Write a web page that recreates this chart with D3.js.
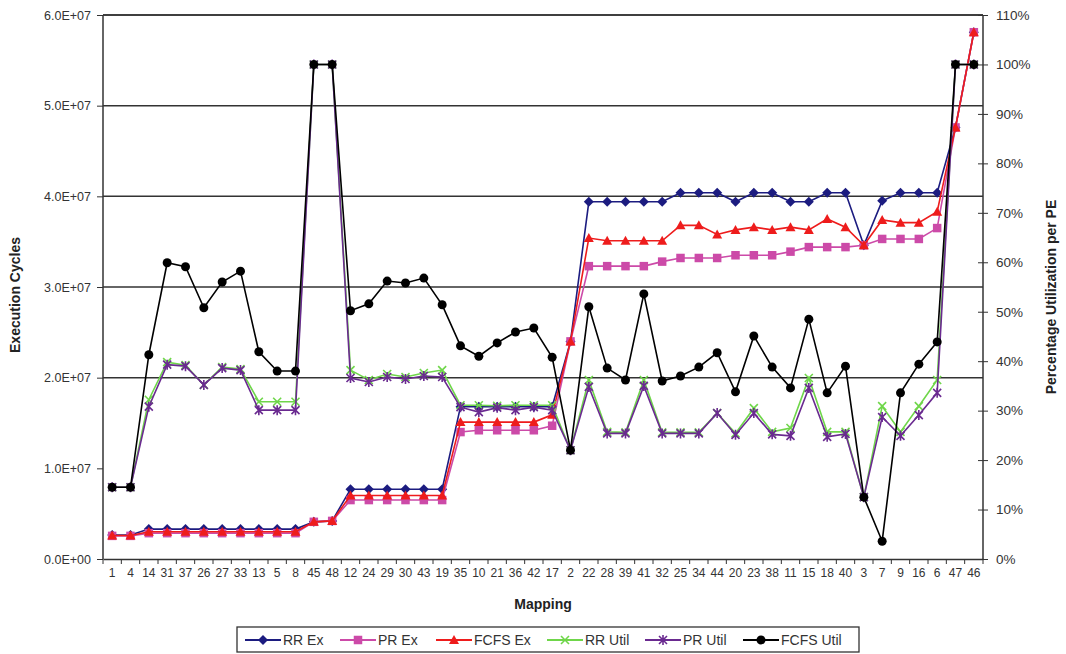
<!DOCTYPE html>
<html lang="en">
<head>
<meta charset="UTF-8">
<title>Execution Cycles and Utilization per Mapping</title>
<script src="https://cdn.jsdelivr.net/npm/d3@7/dist/d3.min.js"></script>
<style>
    body { margin: 0; background: #fff; }
    text { font-family: "Liberation Sans", Arial, sans-serif; fill: #333; }
    .title { font-weight: bold; font-size: 14px; fill: #222; }
</style>
</head>
<body>
<div id="main"></div>
<script>
    // mapping order along the x axis
    const mappings = ['1','4','14','31','37','26','27','33','13','5','8','45','48','12','24','29','30','43','19',
        '35','10','21','36','42','17','2','22','28','39','41','32','25','34','44','20','23','38','11','15','18','40',
        '3','7','9','16','6','47','46'];

    // execution cycles (left axis)
    const rrEx = [2.65e6,2.65e6,3.3e6,3.3e6,3.3e6,3.3e6,3.3e6,3.3e6,3.3e6,3.3e6,3.3e6,4.1e6,4.2e6,
        7.7e6,7.7e6,7.7e6,7.7e6,7.7e6,7.7e6,16.8e6,16.8e6,16.8e6,16.8e6,16.8e6,16.8e6,24.0e6,
        39.4e6,39.4e6,39.4e6,39.4e6,39.4e6,40.4e6,40.4e6,40.4e6,39.4e6,40.4e6,40.4e6,39.4e6,39.4e6,40.4e6,40.4e6,
        34.6e6,39.5e6,40.4e6,40.4e6,40.4e6,47.6e6,58.1e6];
    const prEx = [2.55e6,2.55e6,2.85e6,2.85e6,2.85e6,2.85e6,2.85e6,2.85e6,2.85e6,2.85e6,2.85e6,4.1e6,4.2e6,
        6.5e6,6.5e6,6.5e6,6.5e6,6.5e6,6.5e6,14.0e6,14.2e6,14.2e6,14.2e6,14.2e6,14.7e6,24.0e6,
        32.3e6,32.3e6,32.3e6,32.3e6,32.8e6,33.2e6,33.2e6,33.2e6,33.5e6,33.5e6,33.5e6,33.9e6,34.4e6,34.4e6,34.4e6,
        34.6e6,35.3e6,35.3e6,35.3e6,36.5e6,47.6e6,58.1e6];
    const fcfsEx = [2.6e6,2.6e6,3.0e6,3.0e6,3.0e6,3.0e6,3.0e6,3.0e6,3.0e6,3.0e6,3.0e6,4.1e6,4.2e6,
        7.0e6,7.0e6,7.0e6,7.0e6,7.0e6,7.0e6,15.1e6,15.1e6,15.1e6,15.1e6,15.1e6,15.9e6,24.0e6,
        35.4e6,35.1e6,35.1e6,35.1e6,35.1e6,36.8e6,36.8e6,35.8e6,36.3e6,36.6e6,36.3e6,36.6e6,36.3e6,37.5e6,36.6e6,
        34.6e6,37.4e6,37.1e6,37.1e6,38.3e6,47.6e6,58.1e6];

    // utilization per PE in percent (right axis)
    const rrUtil = [14.5,14.5,32.2,39.8,39.2,35.2,38.8,38.4,31.8,31.8,31.8,100,100,
        38.2,36.2,37.4,36.8,37.6,38.2,31.1,31.1,31.0,31.1,31.1,31.1,22,
        36.2,25.7,25.6,36.2,25.6,25.6,25.6,29.5,25.4,30.5,25.7,26.5,36.6,25.7,25.7,
        12.5,30.9,25.7,30.9,36.2,100,100];
    const prUtil = [14.5,14.5,30.8,39.3,39.0,35.2,38.6,38.2,30.1,30.1,30.1,100,100,
        36.6,35.8,36.8,36.4,37.0,36.8,30.7,29.7,30.6,30.1,30.7,30.1,22,
        34.8,25.4,25.4,35.0,25.4,25.4,25.4,29.5,25.1,29.5,25.2,24.9,34.6,24.7,25.3,
        12.5,28.7,24.9,29.1,33.6,100,100];
    const fcfsUtil = [14.5,14.5,41.3,59.9,59.1,50.8,56.0,58.2,41.9,38.0,38.0,100,100,
        50.2,51.6,56.2,55.8,56.8,51.4,43.1,41.0,43.7,45.9,46.7,40.8,22,
        51.0,38.6,36.2,53.6,36.0,37.0,38.8,41.7,33.8,45.1,38.8,34.6,48.5,33.6,39.0,
        12.5,3.6,33.6,39.4,43.9,100,100];

    const leftTicks = [0, 1e7, 2e7, 3e7, 4e7, 5e7, 6e7];
    const rightTicks = d3.range(0, 111, 10);

    const series = [
        {name: 'RR Ex', values: rrEx, axis: 'left', color: '#1c1c80', symbol: 'diamond'},
        {name: 'PR Ex', values: prEx, axis: 'left', color: '#cc4aa8', symbol: 'square'},
        {name: 'FCFS Ex', values: fcfsEx, axis: 'left', color: '#ee1c1c', symbol: 'triangle'},
        {name: 'RR Util', values: rrUtil, axis: 'right', color: '#6fd64a', symbol: 'x'},
        {name: 'PR Util', values: prUtil, axis: 'right', color: '#6a2a90', symbol: 'star'},
        {name: 'FCFS Util', values: fcfsUtil, axis: 'right', color: '#000000', symbol: 'circle'}
    ];

    const W = 1066, H = 654;
    const m = {left: 103, right: 83, top: 15, bottom: 95};

    const svg = d3.select('#main').append('svg')
        .attr('width', W).attr('height', H);

    const x = d3.scaleBand().domain(mappings).range([m.left, W - m.right]);
    const yL = d3.scaleLinear().domain([0, 6e7]).range([H - m.bottom, m.top]);
    const yR = d3.scaleLinear().domain([0, 110]).range([H - m.bottom, m.top]);
    const cx = d => x(d) + x.bandwidth() / 2;

    // grid lines (only major lines from 2E+07 upward, like the reference)
    svg.append('g').selectAll('line')
        .data(leftTicks.filter(t => t >= 2e7))
        .enter().append('line')
        .attr('x1', m.left).attr('x2', W - m.right)
        .attr('y1', d => yL(d)).attr('y2', d => yL(d))
        .attr('stroke', '#333').attr('stroke-width', 1.5);

    // left axis
    const axL = svg.append('g').attr('transform', `translate(${m.left},0)`)
        .call(d3.axisLeft(yL).tickValues(leftTicks).tickSize(6).tickPadding(6)
            .tickFormat(d => (d / 1e7).toFixed(1) + 'E+' + (d === 0 ? '00' : '07')));
    // right axis
    const axR = svg.append('g').attr('transform', `translate(${W - m.right},0)`)
        .call(d3.axisRight(yR).tickValues(rightTicks).tickSize(5).tickPadding(8)
            .tickFormat(d => d + '%'));
    axR.selectAll('.tick line').attr('x1', -5);
    // bottom axis
    const axB = svg.append('g').attr('transform', `translate(0,${H - m.bottom})`)
        .call(d3.axisBottom(x).tickSize(0).tickPadding(9));
    svg.append('g').attr('transform', `translate(0,${H - m.bottom})`)
        .selectAll('line').data(d3.range(mappings.length + 1)).enter().append('line')
        .attr('x1', i => m.left + i * x.step()).attr('x2', i => m.left + i * x.step())
        .attr('y1', 0).attr('y2', 5).attr('stroke', '#333');

    [axL, axR, axB].forEach(a => {
        a.select('.domain').attr('stroke', '#333').attr('stroke-width', 1.5);
        a.selectAll('.tick line').attr('stroke', '#333');
        a.selectAll('text').style('font-size', '12.5px').attr('fill', '#444');
    });
    axR.selectAll('text').style('font-size', '13.5px');
    axB.selectAll('text').style('font-size', '12px');
    axL.select('.domain').attr('d', `M0,${m.top}V${H - m.bottom}`);
    axR.select('.domain').attr('d', `M0,${m.top}V${H - m.bottom}`);

    // top border
    svg.append('line').attr('x1', m.left).attr('x2', W - m.right)
        .attr('y1', m.top).attr('y2', m.top).attr('stroke', '#333').attr('stroke-width', 1.5);

    // axis titles
    svg.append('text').attr('class', 'title')
        .attr('transform', `translate(20,${(m.top + H - m.bottom) / 2 + 8}) rotate(-90)`)
        .attr('text-anchor', 'middle').text('Execution Cycles');
    svg.append('text').attr('class', 'title')
        .attr('transform', `translate(1056,${(m.top + H - m.bottom) / 2 + 10}) rotate(-90)`)
        .attr('text-anchor', 'middle').text('Percentage Utilization per PE');
    svg.append('text').attr('class', 'title')
        .attr('x', (m.left + W - m.right) / 2).attr('y', 609)
        .attr('text-anchor', 'middle').text('Mapping');

    // marker drawing
    function marker(g, s, size) {
        const r = size / 2;
        if (s.symbol === 'diamond') {
            g.append('path').attr('d', `M0,${-r}L${r},0L0,${r}L${-r},0Z`).attr('fill', s.color);
        } else if (s.symbol === 'square') {
            g.append('rect').attr('x', -r * 0.85).attr('y', -r * 0.85)
                .attr('width', r * 1.7).attr('height', r * 1.7).attr('fill', s.color);
        } else if (s.symbol === 'triangle') {
            g.append('path').attr('d', `M0,${-r}L${r},${r * 0.8}L${-r},${r * 0.8}Z`).attr('fill', s.color);
        } else if (s.symbol === 'circle') {
            g.append('circle').attr('r', r * 0.9).attr('fill', s.color);
        } else if (s.symbol === 'x') {
            const k = r * 0.8;
            g.append('path').attr('d', `M${-k},${-k}L${k},${k}M${-k},${k}L${k},${-k}`)
                .attr('stroke', s.color).attr('stroke-width', 1.6);
        } else if (s.symbol === 'star') {
            const k = r * 0.8;
            g.append('path').attr('d', `M${-k},${-k}L${k},${k}M${-k},${k}L${k},${-k}M0,${-r}V${r}`)
                .attr('stroke', s.color).attr('stroke-width', 1.6);
        }
    }

    series.forEach(s => {
        const y = s.axis === 'left' ? yL : yR;
        const line = d3.line().x((v, i) => cx(mappings[i])).y(v => y(v));
        const g = svg.append('g');
        g.append('path').datum(s.values).attr('d', line)
            .attr('fill', 'none').attr('stroke', s.color).attr('stroke-width', 1.6);
        g.selectAll('g').data(s.values).enter().append('g')
            .attr('transform', (v, i) => `translate(${cx(mappings[i])},${y(v)})`)
            .each(function () { marker(d3.select(this), s, 10); });
    });

    // legend
    const lg = svg.append('g').attr('transform', 'translate(237,627)');
    lg.append('rect').attr('width', 622).attr('height', 25)
        .attr('fill', '#fff').attr('stroke', '#333').attr('stroke-width', 1.3);
    const itemX = [8, 103, 199, 310, 408, 506];
    series.forEach((s, i) => {
        const it = lg.append('g').attr('transform', `translate(${itemX[i]},13)`);
        it.append('line').attr('x1', 0).attr('x2', 36).attr('stroke', s.color).attr('stroke-width', 2);
        marker(it.append('g').attr('transform', 'translate(18,0)'), s, 10);
        it.append('text').attr('x', 38).attr('y', 5).style('font-size', '14px').attr('fill', '#222').text(s.name);
    });
</script>
</body>
</html>
